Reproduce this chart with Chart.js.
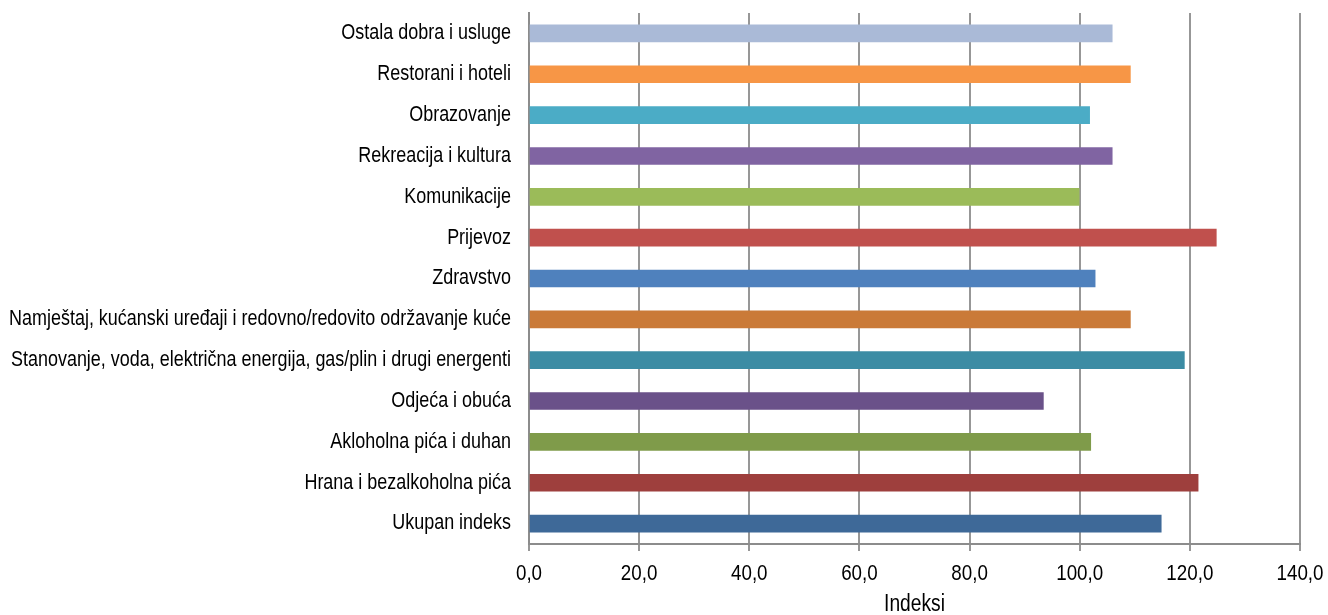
<!DOCTYPE html>
<html>
<head>
<meta charset="utf-8">
<script src="https://cdn.jsdelivr.net/npm/chart.js@4"></script>
<style>
html,body{margin:0;padding:0;background:#fff;}
#wrap{width:1328px;height:615px;position:relative;}
</style>
</head>
<body>
<div id="wrap"><canvas id="c" width="1328" height="615"></canvas></div>
<script>
const categories = [
  "Ostala dobra i usluge",
  "Restorani i hoteli",
  "Obrazovanje",
  "Rekreacija i kultura",
  "Komunikacije",
  "Prijevoz",
  "Zdravstvo",
  "Namještaj, kućanski uređaji i redovno/redovito održavanje kuće",
  "Stanovanje, voda, električna energija, gas/plin i drugi energenti",
  "Odjeća i obuća",
  "Akloholna pića i duhan",
  "Hrana i bezalkoholna pića",
  "Ukupan indeks"
];
const values = [105.9, 109.2, 101.8, 105.9, 99.9, 124.8, 102.8, 109.2, 119.0, 93.4, 102.0, 121.5, 114.8];
const barColors = ["#AABAD7","#F79646","#4BACC6","#8064A2","#9BBB59","#C0504D","#4F81BD","#CA7A38","#3C8CA4","#6A5189","#7F9B4A","#9E3F3D","#3E6998"];
const xTicks = [0,20,40,60,80,100,120,140];
const axisTitle = "Indeksi";

const FONT = "'Liberation Sans', Arial, sans-serif";
const NARROW = 0.835; // emulate a narrow sans (Arial Narrow look)

// Draw all chart text horizontally condensed, anchored at its own x position.
const narrowText = {
  id: 'narrowText',
  beforeDraw(chart) {
    const ctx = chart.ctx;
    if (ctx._narrowPatched) return;
    const orig = ctx.fillText;
    ctx.fillText = function (text, x, y, maxWidth) {
      this.save();
      this.translate(x, y);
      this.scale(NARROW, 1);
      orig.call(this, text, 0, 0);
      this.restore();
    };
    ctx._narrowPatched = true;
  }
};

new Chart(document.getElementById('c'), {
  type: 'bar',
  data: {
    labels: categories,
    datasets: [{
      data: values,
      backgroundColor: barColors,
      borderWidth: 0,
      barThickness: 17
    }]
  },
  plugins: [narrowText],
  options: {
    indexAxis: 'y',
    responsive: false,
    animation: false,
    devicePixelRatio: 1,
    layout: { padding: { top: 13, right: 28, left: 0, bottom: 0 } },
    plugins: { legend: { display: false }, tooltip: { enabled: false } },
    scales: {
      x: {
        min: 0, max: 140,
        afterBuildTicks: (s) => { s.ticks = xTicks.map(v => ({ value: v })); },
        afterFit: (s) => { s.height = 71; s.paddingLeft = 0; s.paddingRight = 0; },
        grid: { color: '#979797', lineWidth: 2, tickLength: 7, drawTicks: true },
        border: { color: '#8c8c8c', width: 2 },
        ticks: {
          color: '#000',
          font: { family: FONT, size: 22.5 },
          padding: 9,
          maxRotation: 0,
          callback: (v) => Number(v).toFixed(1).replace('.', ',')
        },
        title: {
          display: true, text: axisTitle, color: '#000',
          font: { family: FONT, size: 23, lineHeight: 0.9 },
          padding: { top: 0, bottom: 0 }
        }
      },
      y: {
        afterFit: (s) => { s.width = 529; s.paddingTop = 0; s.paddingBottom = 0; },
        grid: { display: false, drawTicks: false },
        border: { color: '#8c8c8c', width: 2 },
        ticks: {
          color: '#000',
          font: { family: FONT, size: 21.5 },
          padding: 18,
          autoSkip: false
        }
      }
    }
  }
});
</script>
</body>
</html>
